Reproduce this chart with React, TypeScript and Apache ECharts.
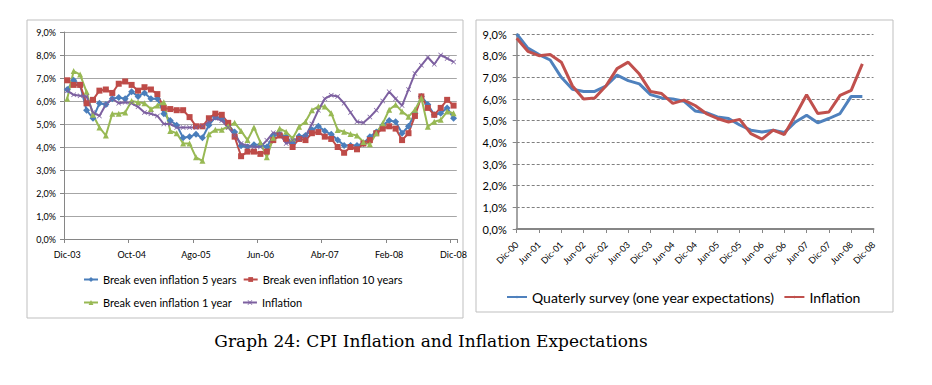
import React, { useEffect, useRef } from "react";
import * as echarts from "echarts";

// ---------- Left chart: monthly, Dic-03 .. Dic-08 ----------
const MONTHS = [
  "Dic-03",
  "Ene-04", "Feb-04", "Mar-04", "Abr-04", "May-04", "Jun-04", "Jul-04", "Ago-04", "Sep-04", "Oct-04", "Nov-04", "Dic-04",
  "Ene-05", "Feb-05", "Mar-05", "Abr-05", "May-05", "Jun-05", "Jul-05", "Ago-05", "Sep-05", "Oct-05", "Nov-05", "Dic-05",
  "Ene-06", "Feb-06", "Mar-06", "Abr-06", "May-06", "Jun-06", "Jul-06", "Ago-06", "Sep-06", "Oct-06", "Nov-06", "Dic-06",
  "Ene-07", "Feb-07", "Mar-07", "Abr-07", "May-07", "Jun-07", "Jul-07", "Ago-07", "Sep-07", "Oct-07", "Nov-07", "Dic-07",
  "Ene-08", "Feb-08", "Mar-08", "Abr-08", "May-08", "Jun-08", "Jul-08", "Ago-08", "Sep-08", "Oct-08", "Nov-08", "Dic-08",
];

const BE5 = [
  6.5, 6.9, 6.7, 5.6, 5.25, 5.9, 5.85, 6.1, 6.15, 6.1, 6.4, 6.2, 6.35, 6.1, 6.1, 5.45, 5.15, 4.95, 4.4, 4.45,
  4.55, 4.4, 4.95, 5.3, 5.25, 4.95, 4.65, 4.05, 4.0, 4.1, 4.1, 4.0, 4.5, 4.55, 4.45, 4.15, 4.47, 4.5, 4.75, 4.9,
  4.7, 4.55, 4.3, 4.07, 4.07, 4.07, 4.15, 4.45, 4.65, 4.95, 5.15, 5.1, 4.6, 4.9, 5.47, 6.2, 5.85, 5.4, 5.47, 5.7,
  5.25,
];

const BE10 = [
  6.9, 6.7, 6.7, 5.9, 6.05, 6.45, 6.5, 6.35, 6.75, 6.85, 6.7, 6.45, 6.6, 6.5, 6.3, 5.7, 5.65, 5.6, 5.6, 5.3,
  4.9, 4.9, 5.25, 5.45, 5.4, 5.05, 4.45, 3.6, 3.8, 3.8, 3.7, 3.8, 4.3, 4.5, 4.35, 4.0, 4.35, 4.3, 4.6, 4.65,
  4.45, 4.35, 4.0, 3.75, 4.0, 3.9, 4.15, 4.3, 4.6, 4.8, 4.9, 4.8, 4.3, 4.6, 5.35, 6.2, 5.7, 5.4, 5.7, 6.05,
  5.8,
];

const BE1 = [
  6.1, 7.3, 7.15, 6.4, 5.4, 4.85, 4.5, 5.45, 5.45, 5.5, 6.0, 5.95, 5.9, 5.65, 5.8, 5.95, 4.7, 4.6, 4.15, 4.15,
  3.55, 3.4, 4.55, 4.75, 4.75, 4.9, 5.05, 4.7, 4.3, 4.85, 4.2, 3.55, 4.4, 4.8, 4.66, 4.37, 4.88, 5.1, 5.6, 5.76,
  5.76, 5.47, 4.74, 4.66, 4.56, 4.5, 4.22, 4.12, 4.6, 5.03, 5.62, 5.84, 5.54, 5.32, 5.62, 6.13, 4.88, 5.1, 5.18, 5.54,
  5.47,
];

const CPI_MONTHLY = [
  6.45, 6.27, 6.23, 6.2, 5.5, 5.35, 5.85, 6.1, 5.9, 5.95, 5.9, 5.75, 5.5, 5.45, 5.35, 5.0, 5.0, 4.85, 4.85, 4.85,
  4.85, 4.9, 5.1, 5.25, 5.15, 4.85, 4.5, 4.15, 4.05, 4.0, 4.0, 4.29, 4.62, 4.56, 4.15, 4.29, 4.37, 4.47, 5.0, 5.6,
  6.1, 6.25, 6.2, 5.9, 5.5, 5.1, 5.05, 5.3, 5.6, 6.0, 6.4, 6.1, 5.8, 6.5, 7.2, 7.55, 7.9, 7.6, 8.0, 7.85,
  7.7,
];

// ---------- Right chart: quarterly, Dic-00 .. Dic-08 ----------
const QUARTERS = [
  "Dic-00",
  "Mar-01", "Jun-01", "Sep-01", "Dic-01",
  "Mar-02", "Jun-02", "Sep-02", "Dic-02",
  "Mar-03", "Jun-03", "Sep-03", "Dic-03",
  "Mar-04", "Jun-04", "Sep-04", "Dic-04",
  "Mar-05", "Jun-05", "Sep-05", "Dic-05",
  "Mar-06", "Jun-06", "Sep-06", "Dic-06",
  "Mar-07", "Jun-07", "Sep-07", "Dic-07",
  "Mar-08", "Jun-08", "Sep-08", "Dic-08",
];

const SURVEY = [
  9.0, 8.35, 8.05, 7.8, 7.0, 6.45, 6.35, 6.35, 6.6, 7.1, 6.85, 6.7, 6.2, 6.05, 6.0, 5.9,
  5.45, 5.37, 5.17, 5.1, 4.8, 4.56, 4.48, 4.56, 4.45, 4.94, 5.25, 4.9, 5.1, 5.33, 6.12, 6.12,
];

const CPI_QUARTERLY = [
  8.8, 8.2, 8.0, 8.05, 7.7, 6.6, 6.0, 6.05, 6.6, 7.4, 7.7, 7.15, 6.35, 6.25, 5.8, 5.95,
  5.7, 5.33, 5.1, 4.94, 5.06, 4.4, 4.15, 4.56, 4.36, 5.25, 6.2, 5.33, 5.4, 6.17, 6.4, 7.62,
];

const NAMES_LEFT = [
  "Break even inflation 5 years",
  "Break even inflation 10 years",
  "Break even inflation 1 year",
  "Inflation",
];
const NAMES_RIGHT = ["Quaterly survey (one year expectations)", "Inflation "];
const CAPTION = "Graph 24: CPI Inflation and Inflation Expectations";

const FONT = "Lato";
const pct = (v: number) => v.toFixed(1).replace(".", ",") + "%";
const X_SYMBOL = "path://M0,1L1,0L5,4L9,0L10,1L6,5L10,9L9,10L5,6L1,10L0,9L4,5Z";

export default function App() {
  const ref = useRef<HTMLDivElement>(null);

  useEffect(() => {
    if (!ref.current) return;
    const chart = echarts.init(ref.current, null, { renderer: "svg" });

    const leftLine = (name: string, data: number[], color: string, symbol: string, size: number) => ({
      name,
      type: "line",
      xAxisIndex: 0,
      yAxisIndex: 0,
      data,
      symbol,
      symbolSize: size,
      showAllSymbol: true,
      lineStyle: { color, width: 2 },
      itemStyle: { color },
      z: 3,
    });

    const option: any = {
      animation: false,
      backgroundColor: "#ffffff",
      textStyle: { fontFamily: FONT },
      grid: [
        { left: 64, top: 32, width: 392.8, height: 207 },
        { left: 516.7, top: 34, width: 356.8, height: 195 },
      ],
      xAxis: [
        {
          type: "category",
          gridIndex: 0,
          data: MONTHS,
          boundaryGap: true,
          axisLine: { lineStyle: { color: "#868686", width: 1 } },
          axisTick: { show: true, interval: 9, length: 4, lineStyle: { color: "#868686" } },
          axisLabel: { interval: 9, fontSize: 9, color: "#000", margin: 11, fontFamily: FONT },
          splitLine: { show: false },
        },
        {
          type: "category",
          gridIndex: 1,
          data: QUARTERS,
          boundaryGap: false,
          axisLine: { lineStyle: { color: "#868686", width: 2 } },
          axisTick: { show: true, interval: 1, length: 4, lineStyle: { color: "#868686" } },
          axisLabel: { interval: 1, rotate: 45, fontSize: 9, color: "#000", margin: 14, fontFamily: FONT },
          splitLine: { show: false },
        },
      ],
      yAxis: [
        {
          type: "value",
          gridIndex: 0,
          min: 0,
          max: 9,
          interval: 1,
          axisLine: { show: true, lineStyle: { color: "#868686" } },
          axisTick: { show: true, length: 4, lineStyle: { color: "#868686" } },
          axisLabel: { formatter: pct, fontSize: 9, color: "#000", margin: 8, fontFamily: FONT },
          splitLine: { lineStyle: { color: "#a6a6a6", width: 1 } },
        },
        {
          type: "value",
          gridIndex: 1,
          min: 0,
          max: 9,
          interval: 1,
          axisLine: { show: true, lineStyle: { color: "#868686", width: 1.5 } },
          axisTick: { show: true, length: 4, lineStyle: { color: "#868686" } },
          axisLabel: { formatter: pct, fontSize: 11, color: "#000", margin: 10, fontFamily: FONT },
          splitLine: { lineStyle: { color: "#808080", width: 1, type: [3, 2] } },
        },
      ],
      legend: [
        {
          data: [NAMES_LEFT[0], NAMES_LEFT[1]],
          left: 83,
          top: 274,
          padding: 0,
          itemWidth: 14,
          itemHeight: 6,
          itemGap: 6,
          textStyle: { fontSize: 11, color: "#000", fontFamily: FONT },
        },
        {
          data: [NAMES_LEFT[2], NAMES_LEFT[3]],
          left: 83,
          top: 297,
          padding: 0,
          itemWidth: 14,
          itemHeight: 6,
          itemGap: 10,
          textStyle: { fontSize: 11, color: "#000", fontFamily: FONT },
        },
        {
          data: NAMES_RIGHT,
          left: 506,
          top: 290,
          padding: 0,
          itemWidth: 20,
          itemHeight: 3,
          itemGap: 8,
          formatter: (n: string) => n.trim(),
          textStyle: { fontSize: 14, color: "#000", fontFamily: FONT },
        },
      ],
      graphic: [
        {
          type: "rect",
          shape: { x: 27, y: 20, width: 436, height: 298 },
          style: { fill: "none", stroke: "#bfbfbf", lineWidth: 1 },
          silent: true,
        },
        {
          type: "rect",
          shape: { x: 476, y: 20, width: 417, height: 292 },
          style: { fill: "none", stroke: "#bfbfbf", lineWidth: 1 },
          silent: true,
        },
        {
          type: "text",
          x: 431,
          y: 341,
          style: {
            text: CAPTION,
            fill: "#000",
            font: "17px 'DejaVu Serif'",
            textAlign: "center",
            textVerticalAlign: "middle",
          },
          silent: true,
        },
      ],
      series: [
        leftLine(NAMES_LEFT[0], BE5, "#4a7ebb", "diamond", 7),
        leftLine(NAMES_LEFT[1], BE10, "#be4b48", "rect", 6),
        leftLine(NAMES_LEFT[2], BE1, "#98b954", "triangle", 6),
        leftLine(NAMES_LEFT[3], CPI_MONTHLY, "#7d60a0", X_SYMBOL, 5),
        {
          name: NAMES_RIGHT[0],
          type: "line",
          xAxisIndex: 1,
          yAxisIndex: 1,
          data: SURVEY,
          symbol: "none",
          lineStyle: { color: "#4f81bd", width: 3 },
          itemStyle: { color: "#4f81bd" },
        },
        {
          name: NAMES_RIGHT[1],
          type: "line",
          xAxisIndex: 1,
          yAxisIndex: 1,
          data: CPI_QUARTERLY,
          symbol: "none",
          lineStyle: { color: "#c0504d", width: 3 },
          itemStyle: { color: "#c0504d" },
        },
      ],
    };

    chart.setOption(option);
    return () => chart.dispose();
  }, []);

  return (
    <div
      ref={ref}
      style={{ position: "absolute", left: 0, top: 0, width: 932, height: 385, background: "#fff" }}
    />
  );
}
